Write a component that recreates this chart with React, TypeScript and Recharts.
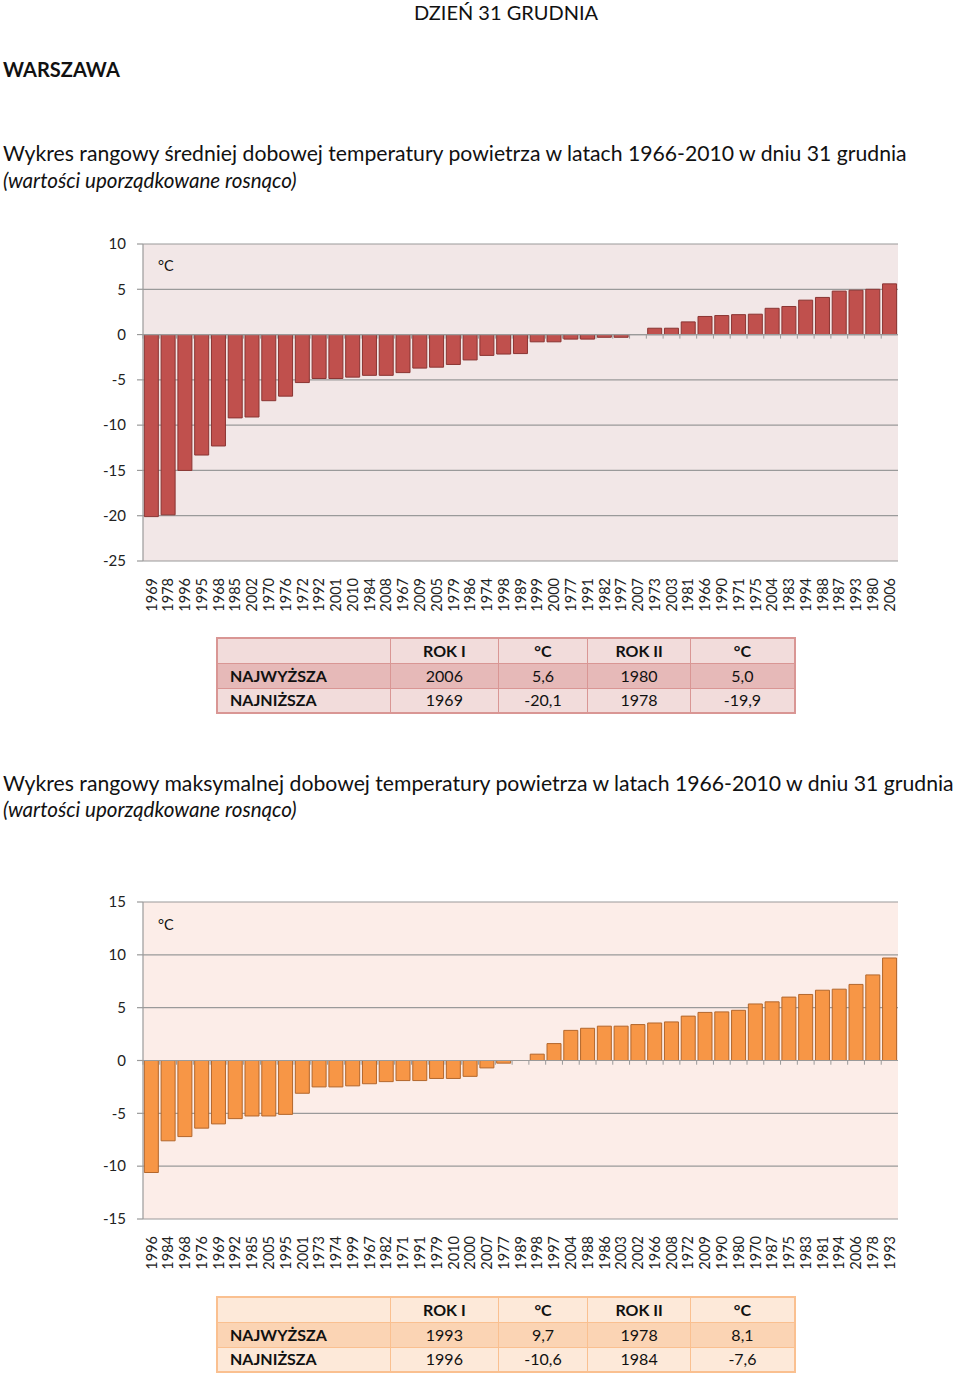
import React from 'react';
import { BarChart, Bar, XAxis, YAxis, CartesianGrid, ReferenceLine } from 'recharts';

const yearsMean = ['1969','1978','1996','1995','1968','1985','2002','1970','1976','1972','1992','2001','2010','1984','2008','1967','2009','2005','1979','1986','1974','1998','1989','1999','2000','1977','1991','1982','1997','2007','1973','2003','1981','1966','1990','1971','1975','2004','1983','1994','1988','1987','1993','1980','2006'];
const valuesMean = [-20.1,-19.9,-15.0,-13.3,-12.3,-9.2,-9.1,-7.3,-6.8,-5.3,-4.85,-4.85,-4.7,-4.5,-4.5,-4.2,-3.7,-3.6,-3.3,-2.8,-2.3,-2.15,-2.1,-0.8,-0.8,-0.5,-0.5,-0.3,-0.3,0.0,0.7,0.7,1.4,2.0,2.1,2.2,2.25,2.9,3.1,3.8,4.1,4.8,4.9,5.0,5.6];
const ticksMean = [10,5,0,-5,-10,-15,-20,-25];

const yearsMax = ['1996','1984','1968','1976','1969','1992','1985','2005','1995','2001','1973','1974','1999','1967','1982','1971','1991','1979','2010','2000','2007','1977','1989','1998','1997','2004','1988','1986','2003','2002','1966','2008','1972','2009','1990','1980','1970','1987','1975','1983','1981','1994','2006','1978','1993'];
const valuesMax = [-10.6,-7.6,-7.2,-6.4,-6.0,-5.5,-5.25,-5.25,-5.1,-3.1,-2.5,-2.5,-2.4,-2.2,-2.0,-1.9,-1.9,-1.7,-1.7,-1.5,-0.7,-0.25,0.0,0.6,1.6,2.85,3.05,3.25,3.25,3.4,3.55,3.65,4.2,4.55,4.6,4.75,5.35,5.55,6.0,6.25,6.65,6.75,7.2,8.1,9.7];
const ticksMax = [15,10,5,0,-5,-10,-15];

const tableHeader = ['', 'ROK I', '°C', 'ROK II', '°C'];
const tableMean = [['NAJWYŻSZA','2006','5,6','1980','5,0'],['NAJNIŻSZA','1969','-20,1','1978','-19,9']];
const tableMax = [['NAJWYŻSZA','1993','9,7','1978','8,1'],['NAJNIŻSZA','1996','-10,6','1984','-7,6']];

const FONT = 'Lato, "Open Sans", sans-serif';

const RotTick = (props: any) => {
  const { x, y, payload } = props;
  return (
    <text x={x} y={y} transform={`rotate(-90, ${x}, ${y})`} textAnchor="end" dy="0.36em" fontSize={14.5} fill="#222" fontFamily={FONT}>
      {payload.value}
    </text>
  );
};

type ChartProps = {
  years: string[]; values: number[]; ticks: number[]; domain: [number, number];
  top: number; fill: string; stroke: string; bg: string; tickLen: number;
};

const RankChart = ({ years, values, ticks, domain, top, fill, stroke, bg, tickLen }: ChartProps) => {
  const data = years.map((y, i) => ({ year: y, v: values[i] }));
  const mt = 10;
  return (
    <div style={{ position: 'absolute', left: 0, top: top - mt }}>
      <BarChart width={910} height={mt + 317 + 60} data={data}
        margin={{ top: mt, right: 12, bottom: 0, left: 83 }} barCategoryGap="8%">
        <CartesianGrid vertical={false} stroke="#9a9a9a" strokeWidth={1.2} fill={bg} fillOpacity={1} />
        <XAxis dataKey="year" height={60} interval={0} tickSize={0} tickMargin={17} axisLine={false} tickLine={false} tick={<RotTick />} />
        <YAxis width={60} domain={domain} ticks={ticks} interval={0} allowDataOverflow
          axisLine={{ stroke: '#9a9a9a', strokeWidth: 1.2 }} tickLine={{ stroke: '#9a9a9a', strokeWidth: 1.2 }} tickSize={6} tickMargin={11}
          tick={{ fontSize: 15, fill: '#222', fontFamily: FONT }} />
        <ReferenceLine y={0} stroke="#9a9a9a" strokeWidth={1.2} />
        {years.map((y) => (
          <ReferenceLine key={'t' + y} segment={[{ x: y, y: 0 }, { x: y, y: -tickLen }]} position="start" stroke="#9a9a9a" strokeWidth={1} />
        ))}
        <Bar dataKey="v" fill={fill} stroke={stroke} strokeWidth={1} isAnimationActive={false} />
      </BarChart>
    </div>
  );
};

const StatTable = ({ rows, top, border, light, dark }: { rows: string[][]; top: number; border: string; light: string; dark: string }) => {
  const widths = [174, 108, 90, 103, 105];
  const cell = (txt: string, i: number, bold: boolean, bg: string) => (
    <td key={i} style={{
      width: widths[i], height: 25, padding: 0, paddingLeft: i === 0 ? 12 : 0,
      textAlign: i === 0 ? 'left' : 'center', fontWeight: bold ? 700 : 400,
      border: `1.5px solid ${border}`, background: bg, boxSizing: 'border-box', lineHeight: '20px',
    }}>{txt}</td>
  );
  return (
    <table style={{
      position: 'absolute', left: 216, top, width: 580, borderCollapse: 'collapse',
      fontFamily: FONT, fontSize: 16, color: '#111', border: `2px solid ${border}`,
    }}>
      <tbody>
        <tr>{tableHeader.map((h, i) => cell(h, i, true, light))}</tr>
        <tr>{rows[0].map((h, i) => cell(h, i, i === 0, dark))}</tr>
        <tr>{rows[1].map((h, i) => cell(h, i, i === 0, light))}</tr>
      </tbody>
    </table>
  );
};

const txt = (content: string, left: number, top: number, size: number, extra: React.CSSProperties = {}) => (
  <div style={{ position: 'absolute', left, top, fontSize: size, lineHeight: 1, fontFamily: FONT, color: '#111', whiteSpace: 'nowrap', ...extra }}>{content}</div>
);

export default function App() {
  return (
    <div style={{ position: 'absolute', left: 0, top: 0, width: 960, height: 1378, background: '#fff', overflow: 'hidden' }}>
      {txt('DZIEŃ 31 GRUDNIA', 0, 2, 20, { width: 1012, textAlign: 'center' })}
      {txt('WARSZAWA', 3, 59, 20, { fontWeight: 700 })}
      {txt('Wykres rangowy średniej dobowej temperatury powietrza w latach 1966-2010 w dniu 31 grudnia', 3, 143, 21.2)}
      {txt('(wartości uporządkowane rosnąco)', 3, 170, 20.6, { fontStyle: 'italic' })}

      <RankChart years={yearsMean} values={valuesMean} ticks={ticksMean} domain={[-25, 10]} top={244}
        fill="#c0504d" stroke="#8a3533" bg="#f2e7e7" tickLen={0.45} />
      {txt('°C', 158, 259, 14.5)}

      <StatTable rows={tableMean} top={637} border="#d99694" light="#f2dcdb" dark="#e6b9b8" />

      {txt('Wykres rangowy maksymalnej dobowej temperatury powietrza w latach 1966-2010 w dniu 31 grudnia', 3, 773, 21.2)}
      {txt('(wartości uporządkowane rosnąco)', 3, 799, 20.6, { fontStyle: 'italic' })}

      <RankChart years={yearsMax} values={valuesMax} ticks={ticksMax} domain={[-15, 15]} top={902}
        fill="#f79646" stroke="#b3672c" bg="#fcede8" tickLen={0.4} />
      {txt('°C', 158, 918, 14.5)}

      <StatTable rows={tableMax} top={1296} border="#fac090" light="#fde9d9" dark="#fbd4b4" />
    </div>
  );
}
